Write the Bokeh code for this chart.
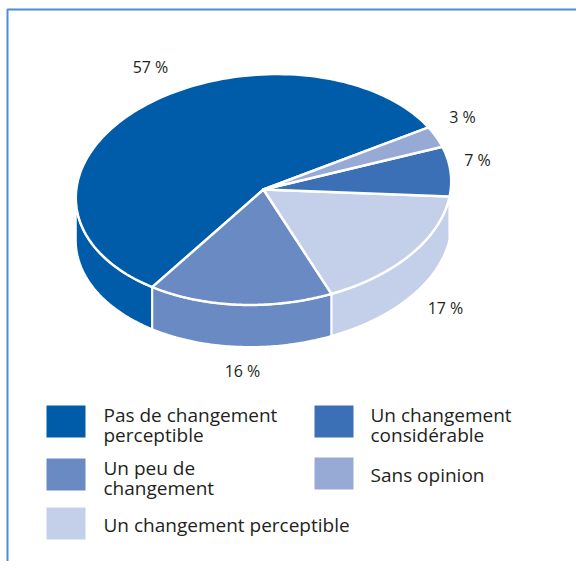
import numpy as np
from bokeh.plotting import figure
from bokeh.models import Range1d
from bokeh.core.properties import value
from bokeh.embed import file_html
from bokeh.resources import INLINE

# ---- data (order around the pie, counter-clockwise) ----
categories = ["Pas de changement perceptible", "Un peu de changement",
              "Un changement perceptible", "Un changement considérable",
              "Sans opinion"]
shares = [57, 16, 17, 7, 3]
pct_labels = ["57 %", "16 %", "17 %", "7 %", "3 %"]
colors = ["#005ca9", "#6a8ac3", "#c4cfe9", "#3b70b6", "#97a9d5"]

# legend order (reading order)
legend_order = ["Pas de changement perceptible", "Un changement considérable",
                "Un peu de changement", "Sans opinion",
                "Un changement perceptible"]
legend_text = {"Pas de changement perceptible": "Pas de changement\nperceptible",
               "Un changement considérable": "Un changement\nconsidérable",
               "Un peu de changement": "Un peu de\nchangement",
               "Sans opinion": "Sans opinion",
               "Un changement perceptible": "Un changement perceptible"}

# ---- layout (pixel-like coordinates, y downwards) ----
W, H = 576, 561
cx, cy, rx, ry, depth = 263, 189, 188, 115, 42
tilt_deg = 4.0
start_deg = 26.0
TY = -7  # text vertical correction
label_pos = [(150, 73), (242, 377), (445, 314), (477, 166), (462, 123)]
legend_cells = [(46, 405), (314, 405), (46, 458), (314, 457), (46, 507)]
sq_w, sq_h = 39, 32
text_dx = [57, 56, 57, 56, 57]
FONT = "Open Sans"
TXT = "#231f20"

p = figure(width=W, height=H, x_range=Range1d(0, W), y_range=Range1d(H, 0),
           output_backend="svg", toolbar_location=None, min_border=0)
p.axis.visible = False
p.grid.visible = False
p.outline_line_color = None
p.background_fill_color = "white"
p.border_fill_color = "white"

# frame border (left & top)
p.line(x=[7, 7, W + 10], y=[H + 10, 9, 9], line_color="#4a8fd4", line_width=2)

phi = np.radians(tilt_deg)

def pt(t_deg, dy=0.0):
    t = np.radians(t_deg)
    ex, ey = rx * np.cos(t), ry * np.sin(t)
    x = ex * np.cos(phi) - ey * np.sin(phi)
    y = ex * np.sin(phi) + ey * np.cos(phi)
    return cx + x, cy - y + dy

# silhouette angle (front half of the rim)
t_sil = np.degrees(np.arctan2(-ry * np.sin(phi), rx * np.cos(phi)))  # about -2.5
front = [(t_sil + 180, t_sil + 360), (t_sil + 540, t_sil + 720)]

# slice angle ranges
bounds = [start_deg]
for s in shares:
    bounds.append(bounds[-1] + s / sum(shares) * 360.0)

# side faces (front half only)
side_xs, side_ys, side_c = [], [], []
for i, c in enumerate(colors):
    a0, a1 = bounds[i], bounds[i + 1]
    for lo, hi in front:
        s0, s1 = max(a0, lo), min(a1, hi)
        if s1 > s0:
            ts = np.linspace(s0, s1, 80)
            xt, yt = pt(ts)
            xb, yb = pt(ts[::-1], depth)
            side_xs.append(list(np.concatenate([xt, xb])))
            side_ys.append(list(np.concatenate([yt, yb])))
            side_c.append(c)
p.patches(xs=side_xs, ys=side_ys, fill_color=side_c, line_color="white", line_width=2)

# top faces
top_xs, top_ys = [], []
for i in range(len(shares)):
    ts = np.linspace(bounds[i], bounds[i + 1], 120)
    xa, ya = pt(ts)
    top_xs.append([cx] + list(xa))
    top_ys.append([cy] + list(ya))
p.patches(xs=top_xs, ys=top_ys, fill_color=colors, line_color="white",
          line_width=2.5, line_join="round")

# percentage labels
p.text(x=[q[0] for q in label_pos], y=[q[1] + TY for q in label_pos], text=pct_labels,
       text_align="center", text_baseline="alphabetic", text_font=value(FONT),
       text_font_size="16px", text_color=TXT)

# legend
lx, ly, lt = [], [], []
rxs, rys, rcs = [], [], []
for k, name in enumerate(legend_order):
    x0, y0 = legend_cells[k]
    rxs.append(x0 + sq_w / 2)
    rys.append(y0 + sq_h / 2)
    rcs.append(colors[categories.index(name)])
    lines = legend_text[name].split("\n")
    if len(lines) == 1:
        lx.append(x0 + text_dx[k]); ly.append(y0 + sq_h / 2 + 8 + TY); lt.append(lines[0])
    else:
        for j, ln in enumerate(lines):
            lx.append(x0 + text_dx[k]); ly.append(y0 + 16 + 20 * j + TY); lt.append(ln)
p.rect(x=rxs, y=rys, width=sq_w, height=sq_h, fill_color=rcs, line_color=None)
p.text(x=lx, y=ly, text=lt, text_align="left", text_baseline="alphabetic",
       text_font=value(FONT), text_font_size="19px", text_color=TXT)

open("out.html", "w").write(file_html(p, INLINE))
